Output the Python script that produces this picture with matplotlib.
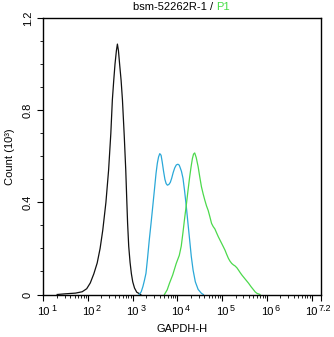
import numpy as np
import matplotlib
matplotlib.use("Agg")
import matplotlib.pyplot as plt
from matplotlib.ticker import FixedLocator, NullFormatter

plt.rcParams['font.family'] = ['Liberation Sans', 'DejaVu Sans']

# histogram traces: log10(GAPDH-H) position and count (x 10^3)
black_log = [1.31, 1.49, 1.72, 1.87, 1.97, 2.05, 2.13, 2.205, 2.27, 2.33, 2.40, 2.46,
             2.51, 2.544, 2.575, 2.603, 2.635, 2.657, 2.68, 2.707, 2.74, 2.77, 2.81,
             2.844, 2.865, 2.885, 2.91, 2.94, 2.97, 3.0, 3.04, 3.09, 3.18]
black_cnt = [0.0, 0.003, 0.006, 0.012, 0.025, 0.05, 0.09, 0.137, 0.2, 0.28, 0.4, 0.54,
             0.7, 0.845, 0.93, 1.0, 1.06, 1.088, 1.06, 1.0, 0.93, 0.845, 0.69,
             0.54, 0.42, 0.31, 0.21, 0.14, 0.09, 0.055, 0.028, 0.01, 0.0]

blue_log = [3.144, 3.19, 3.228, 3.26, 3.296, 3.33, 3.37, 3.41, 3.447, 3.485, 3.521,
            3.55, 3.578, 3.605, 3.634, 3.66, 3.69, 3.72, 3.747, 3.775, 3.808, 3.84,
            3.871, 3.905, 3.939, 3.975, 4.011, 4.04, 4.063, 4.09, 4.124, 4.16, 4.199,
            4.235, 4.273, 4.31, 4.35, 4.40, 4.463, 4.537, 4.58]
blue_cnt = [0.0, 0.012, 0.035, 0.06, 0.092, 0.155, 0.237, 0.31, 0.381, 0.455, 0.526,
            0.57, 0.598, 0.612, 0.605, 0.575, 0.535, 0.5, 0.482, 0.475, 0.478, 0.487,
            0.505, 0.53, 0.55, 0.563, 0.566, 0.562, 0.55, 0.535, 0.505, 0.45, 0.381,
            0.31, 0.237, 0.165, 0.106, 0.055, 0.022, 0.005, 0.0]

green_log = [3.709, 3.77, 3.822, 3.894, 3.973, 4.041, 4.085, 4.124, 4.16, 4.199, 4.235,
             4.273, 4.305, 4.334, 4.36, 4.386, 4.42, 4.463, 4.50, 4.537, 4.575, 4.612,
             4.65, 4.688, 4.725, 4.763, 4.80, 4.837, 4.875, 4.914, 4.95, 4.989, 5.025,
             5.063, 5.10, 5.14, 5.175, 5.214, 5.25, 5.289, 5.33, 5.366, 5.40, 5.44,
             5.515, 5.591, 5.65, 5.704, 5.74, 5.779, 5.847]
green_cnt = [0.0, 0.02, 0.049, 0.085, 0.135, 0.17, 0.21, 0.27, 0.33, 0.39, 0.45,
             0.51, 0.555, 0.59, 0.61, 0.615, 0.595, 0.555, 0.51, 0.468, 0.437, 0.41,
             0.385, 0.365, 0.338, 0.309, 0.295, 0.285, 0.268, 0.251, 0.237, 0.222, 0.208,
             0.193, 0.175, 0.157, 0.145, 0.135, 0.129, 0.124, 0.116, 0.106, 0.096, 0.085,
             0.067, 0.049, 0.033, 0.02, 0.011, 0.005, 0.0]

x_exp_labels = ['1', '2', '3', '4', '5', '6', '7.2']
y_ticks = [0, 0.4, 0.8, 1.2]

fig = plt.figure(figsize=(3.34, 3.37), dpi=100)
ax = fig.add_axes([0.1297, 0.1261, 0.9596 - 0.1297, 0.9457 - 0.1261])

ax.plot(10 ** np.array(black_log), black_cnt, color='#111111', lw=0.9)
ax.plot(10 ** np.array(blue_log), blue_cnt, color='#2aa8d8', lw=0.9)
ax.plot(10 ** np.array(green_log), green_cnt, color='#4cd94c', lw=0.9)

ax.set_xscale('log')
ax.set_xlim(10 ** 1, 10 ** 7.2)
ax.set_ylim(0, 1.2)

# x ticks: decades plus the right-hand edge, log minor ticks in between
ax.xaxis.set_major_locator(FixedLocator([10 ** k for k in range(1, 8)] + [10 ** 7.2]))
minors = [m * 10 ** k for k in range(1, 7) for m in range(2, 10)] + [2e7, 3e7, 4e7]
minors = [v for v in minors if v < 10 ** 7.2]
ax.xaxis.set_minor_locator(FixedLocator(minors))
ax.xaxis.set_major_formatter(NullFormatter())
ax.xaxis.set_minor_formatter(NullFormatter())

ax.yaxis.set_major_locator(FixedLocator(y_ticks))
ax.yaxis.set_minor_locator(FixedLocator(np.arange(0, 1.21, 0.1)))
ax.set_yticklabels(['0', '0.4', '0.8', '1.2'], rotation=90, va='center', fontsize=8)

ax.tick_params(which='major', direction='out', length=4, width=0.8, color='black')
ax.tick_params(which='minor', direction='out', length=2, width=0.6, color='black')
for s in ax.spines.values():
    s.set_linewidth(1.0)
    s.set_color('black')

# "10" centred on each decade tick with the exponent raised to its right
xt = ax.get_xaxis_transform()
for e in x_exp_labels:
    val = 10 ** float(e)
    shift = -7 if e == '7.2' else 0
    ax.annotate('10', xy=(val, 0), xycoords=xt, xytext=(shift, -9),
                textcoords='offset points', ha='center', va='top', fontsize=8)
    ax.annotate(e, xy=(val, 0), xycoords=xt, xytext=(shift + 5.5, -6.5),
                textcoords='offset points', ha='left', va='top', fontsize=6.5)

ax.set_xlabel('GAPDH-H', fontsize=8, labelpad=14)
ax.set_ylabel('Count (10³)', fontsize=8, labelpad=6)

# title in two colours
t1 = fig.text(0.398, 0.978, 'bsm-52262R-1 / ', ha='left', va='center', fontsize=8)
fig.canvas.draw()
bb = t1.get_window_extent().transformed(fig.transFigure.inverted())
fig.text(bb.x1, 0.978, 'P1', ha='left', va='center', fontsize=8, color='#44dd44')

fig.savefig('out.png', dpi=100)
